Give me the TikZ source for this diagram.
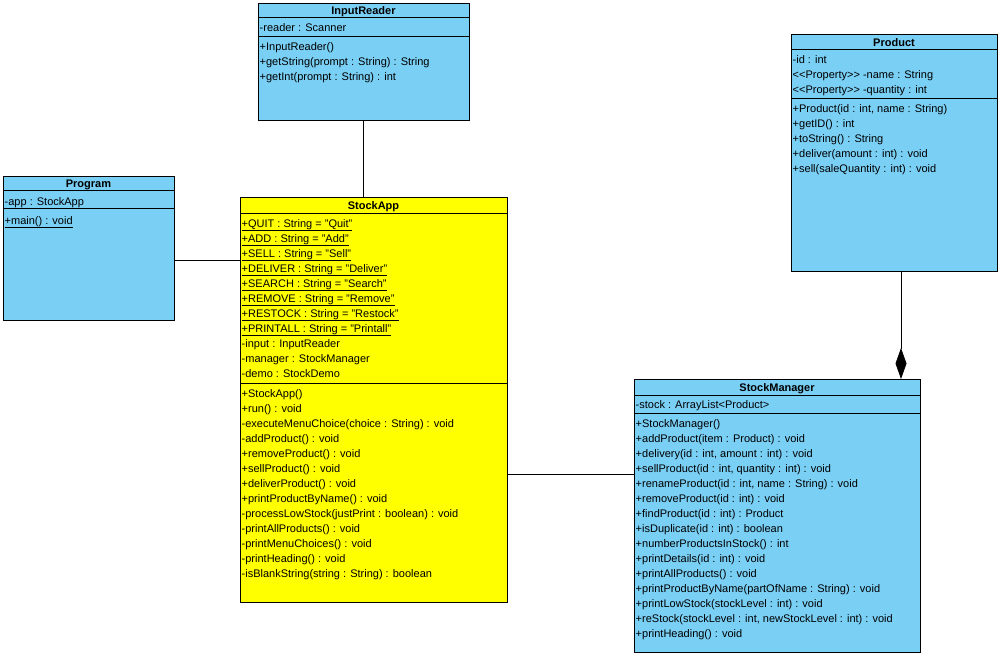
\documentclass[tikz,border=0pt]{standalone}
\usepackage{fontspec}
\setmainfont{Liberation Sans}
\usetikzlibrary{arrows.meta}
\definecolor{umlblue}{RGB}{122,207,245}
\definecolor{umlyellow}{RGB}{255,255,0}
\begin{document}
\begin{tikzpicture}[x=1pt,y=-1pt,
  cls/.style={draw=black, line width=0.8pt, anchor=north west, inner sep=0pt, outer sep=0pt},
  ttl/.style={font=\fontsize{11}{13}\selectfont\bfseries, inner sep=0pt, anchor=base},
  row/.style={font=\fontsize{11}{13}\selectfont, inner sep=0pt, anchor=base west},
  sep/.style={line width=0.8pt},
  link/.style={line width=0.8pt, draw=black}]
\useasboundingbox[fill=white] (0,0) rectangle (1000,656);

% ---------------- InputReader
\node[cls, fill=umlblue, minimum width=211pt, minimum height=117pt] (ir) at (258,3) {};
\node[ttl] (irt) at (363.5,14) {InputReader};
\draw[sep] (258,17) -- (469,17);
\draw[sep] (258,36) -- (469,36);
\node[row] (ira1) at (259.5,31) {-reader : Scanner};
\foreach \t [count=\i from 0] in {{+InputReader()},{+getString(prompt : String) : String},{+getInt(prompt : String) : int}}
  \node[row] (irm\i) at (259.5,50+15*\i) {\t};

% ---------------- Program
\node[cls, fill=umlblue, minimum width=171pt, minimum height=144pt] (prog) at (3,176) {};
\node[ttl] (progt) at (88.5,187) {Program};
\draw[sep] (3,190) -- (174,190);
\draw[sep] (3,208) -- (174,208);
\node[row] (proga1) at (4.5,205) {\underline{-app : StockApp}};
\node[row] (progm1) at (4.5,224) {\underline{+main() : void}};

% ---------------- StockApp
\node[cls, fill=umlyellow, minimum width=267pt, minimum height=405pt] (app) at (240,197) {};
\node[ttl] (appt) at (373.5,209) {StockApp};
\draw[sep] (240,213) -- (507,213);
\draw[sep] (240,383) -- (507,383);
\foreach \t [count=\i from 0] in {{+QUIT : String = "Quit"},{+ADD : String = "Add"},{+SELL : String = "Sell"},{+DELIVER : String = "Deliver"},{+SEARCH : String = "Search"},{+REMOVE : String = "Remove"},{+RESTOCK : String = "Restock"},{+PRINTALL : String = "Printall"}}
  \node[row] (appc\i) at (241.5,227+15*\i) {\underline{\t}};
\foreach \t [count=\i from 0] in {{-input : InputReader},{-manager : StockManager},{-demo : StockDemo}}
  \node[row] (appa\i) at (241.5,347+15*\i) {\t};
\foreach \t [count=\i from 0] in {{+StockApp()},{+run() : void},{-executeMenuChoice(choice : String) : void},{-addProduct() : void},{+removeProduct() : void},{+sellProduct() : void},{+deliverProduct() : void},{+printProductByName() : void},{-processLowStock(justPrint : boolean) : void},{-printAllProducts() : void},{-printMenuChoices() : void},{-printHeading() : void},{-isBlankString(string : String) : boolean}}
  \node[row] (appm\i) at (241.5,397+15*\i) {\t};

% ---------------- Product
\node[cls, fill=umlblue, minimum width=206pt, minimum height=237pt] (prod) at (791,34) {};
\node[ttl] (prodt) at (894,46) {Product};
\draw[sep] (791,49) -- (997,49);
\draw[sep] (791,98) -- (997,98);
\foreach \t [count=\i from 0] in {{-id : int},{<{}<Property>{}> -name : String},{<{}<Property>{}> -quantity : int}}
  \node[row] (proda\i) at (792.5,63+15*\i) {\t};
\foreach \t [count=\i from 0] in {{+Product(id : int, name : String)},{+getID() : int},{+toString() : String},{+deliver(amount : int) : void},{+sell(saleQuantity : int) : void}}
  \node[row] (prodm\i) at (792.5,112+15*\i) {\t};

% ---------------- StockManager
\node[cls, fill=umlblue, minimum width=286pt, minimum height=273pt] (sm) at (634,379) {};
\node[ttl] (smt) at (777,391) {StockManager};
\draw[sep] (634,395) -- (920,395);
\draw[sep] (634,413) -- (920,413);
\node[row] (sma1) at (635.5,408) {-stock : ArrayList<Product>};
\foreach \t [count=\i from 0] in {{+StockManager()},{+addProduct(item : Product) : void},{+delivery(id : int, amount : int) : void},{+sellProduct(id : int, quantity : int) : void},{+renameProduct(id : int, name : String) : void},{+removeProduct(id : int) : void},{+findProduct(id : int) : Product},{+isDuplicate(id : int) : boolean},{+numberProductsInStock() : int},{+printDetails(id : int) : void},{+printAllProducts() : void},{+printProductByName(partOfName : String) : void},{+printLowStock(stockLevel : int) : void},{+reStock(stockLevel : int, newStockLevel : int) : void},{+printHeading() : void}}
  \node[row] (smm\i) at (635.5,427+15*\i) {\t};

% ---------------- connectors
\coordinate (c1) at (0,260);
\coordinate (c2) at (0,474);
\coordinate (c3) at (901,0);
\draw[link] (ir.south) -- (ir.south |- app.north);
\draw[link] (prog.east |- c1) -- (app.west |- c1);
\draw[link] (app.east |- c2) -- (sm.west |- c2);
\draw[link, -{Diamond[fill=black, length=31pt, width=11pt]}] (c3 |- prod.south) -- (c3 |- sm.north);
\end{tikzpicture}
\end{document}
